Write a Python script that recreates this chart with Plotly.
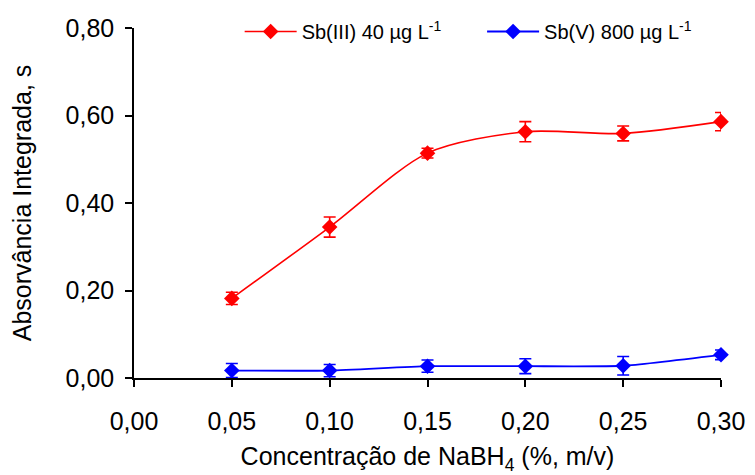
import plotly.graph_objects as go

conc = [0.05, 0.10, 0.15, 0.20, 0.25, 0.30]
sb3 = [0.182, 0.345, 0.514, 0.563, 0.559, 0.586]
sb3_err = [0.014, 0.023, 0.011, 0.023, 0.017, 0.021]
sb5 = [0.017, 0.017, 0.027, 0.027, 0.028, 0.053]
sb5_err = [0.016, 0.014, 0.014, 0.017, 0.021, 0.011]

x_ticks = [0.00, 0.05, 0.10, 0.15, 0.20, 0.25, 0.30]
y_ticks = [0.00, 0.20, 0.40, 0.60, 0.80]

font_family = "Liberation Sans, Arial, sans-serif"

fig = go.Figure()
fig.add_trace(go.Scatter(
    x=conc, y=sb3, name="Sb(III) 40 µg L<sup>-1</sup>",
    mode="lines+markers", legend="legend",
    line=dict(color="#ff0000", width=1.6, shape="spline", smoothing=0.8),
    marker=dict(symbol="diamond", size=12, color="#ff0000"),
    error_y=dict(type="data", array=sb3_err, color="#ff0000", thickness=1.6, width=6),
    cliponaxis=False,
))
fig.add_trace(go.Scatter(
    x=conc, y=sb5, name="Sb(V) 800 µg L<sup>-1</sup>",
    mode="lines+markers", legend="legend2",
    line=dict(color="#0000ff", width=1.8, shape="spline", smoothing=0.5),
    marker=dict(symbol="diamond", size=12, color="#0000ff"),
    error_y=dict(type="data", array=sb5_err, color="#0000ff", thickness=1.6, width=6),
    cliponaxis=False,
))

legend_common = dict(orientation="h", xanchor="left", yanchor="middle",
                     font=dict(size=20), bgcolor="rgba(0,0,0,0)", borderwidth=0,
                     itemwidth=52)

fig.update_layout(
    width=755, height=475,
    margin=dict(l=126, r=42, t=20, b=105, autoexpand=False),
    plot_bgcolor="white", paper_bgcolor="white",
    separators=",.",
    font=dict(family=font_family, size=25, color="black"),
    showlegend=True,
    legend=dict(x=0.18, y=0.99, **legend_common),
    legend2=dict(x=0.593, y=0.99, **legend_common),
)
fig.update_xaxes(
    range=[0, 0.30], tickvals=x_ticks, tickformat=".2f", automargin=False,
    showline=True, linecolor="black", linewidth=1.5,
    ticks="outside", ticklen=7, tickwidth=1.5, tickcolor="black",
    showgrid=False, zeroline=False, ticklabelstandoff=13,
    title=dict(text="Concentração de NaBH<sub>4</sub> (%, m/v)", standoff=14,
               font=dict(size=25)),
)
fig.update_yaxes(
    range=[0, 0.80], tickvals=y_ticks, tickformat=".2f", automargin=False,
    showline=True, linecolor="black", linewidth=1.5,
    ticks="outside", ticklen=7, tickwidth=1.5, tickcolor="black",
    showgrid=False, zeroline=False, ticklabelstandoff=6,
    title=dict(text="Absorvância Integrada, s", standoff=29, font=dict(size=25)),
)

fig.write_html("out.html")
